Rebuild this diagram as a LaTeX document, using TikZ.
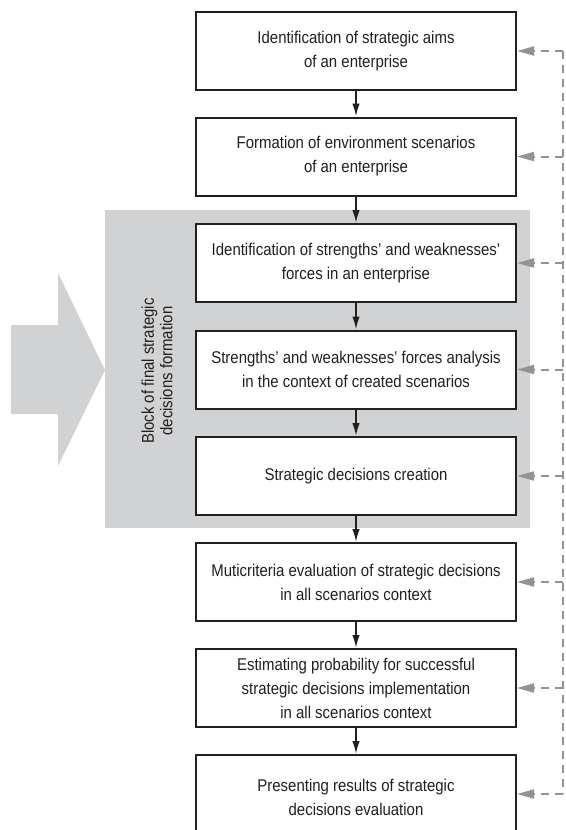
\documentclass[tikz,border=0pt]{standalone}
\usepackage{fontspec}
\setmainfont[FakeStretch=0.88]{Liberation Sans}
\usetikzlibrary{arrows.meta}
\definecolor{blockgrey}{HTML}{D1D2D4}
\definecolor{fbgrey}{HTML}{939393}
\definecolor{ink}{HTML}{231F20}
\tikzset{
  stepbox/.style={draw=ink, line width=2pt, fill=white, minimum width=320pt, minimum height=78pt,
    align=center, inner sep=0pt, text=ink, font=\fontsize{17}{24}\selectfont},
  flow/.style={draw=ink, line width=1.8pt, -{Latex[length=13pt,width=7.5pt]}},
  fb/.style={draw=fbgrey, line width=2pt, dash pattern=on 8pt off 6pt, -{Triangle[length=17pt,width=9pt,fill=fbgrey]}},
  fbline/.style={draw=fbgrey, line width=2pt, dash pattern=on 8pt off 6pt},
}
\begin{document}
\begin{tikzpicture}[x=1pt,y=-1pt]
\useasboundingbox (0,0) rectangle (565,830);
\begin{scope}
\clip (0,0) rectangle (565,830);
% grey block and big arrow
\fill[blockgrey] (105,210) rectangle (530,528);
\fill[blockgrey] (11,325) -- (58,325) -- (58,273) -- (105,370) -- (58,466) -- (58,414) -- (11,414) -- cycle;
\node[rotate=90, align=center, text=ink, font=\fontsize{17}{18.5}\selectfont] (blocklabel) at (157,371)
  {Block of final strategic\\decisions formation};

% boxes
\node[stepbox] (b1) at (356,51) {Identification of strategic aims\\of an enterprise};
\node[stepbox] (b2) at (356,156.5) {Formation of environment scenarios\\of an enterprise};
\node[stepbox] (b3) at (356,263) {Identification of strengths’ and weaknesses’\\forces in an enterprise};
\node[stepbox] (b4) at (356,369.5) {Strengths’ and weaknesses’ forces analysis\\in the context of created scenarios};
\node[stepbox] (b5) at (356,476) {Strategic decisions creation};
\node[stepbox] (b6) at (356,582) {Muticriteria evaluation of strategic decisions\\in all scenarios context};
\node[stepbox] (b7) at (356,688) {Estimating probability for successful\\strategic decisions implementation\\in all scenarios context};
\node[stepbox, minimum height=84pt] (b8) at (356,797) {Presenting results of strategic\\decisions evaluation};

% flow arrows
\foreach \a/\b in {b1/b2,b2/b3,b3/b4,b4/b5,b5/b6,b6/b7,b7/b8}
  \draw[flow] (\a.south) -- (\b.north);

% feedback
\foreach \i/\y in {1/51,2/156.5,3/263,4/369.5,5/476,6/582,7/688,8/794}
  \coordinate (fb\i) at (563,\y);
\draw[fbline] (fb1) -- (fb8);
\foreach \i in {1,...,8}
  \draw[fb] (fb\i) -- (fb\i -| b\i.east);
\end{scope}
\end{tikzpicture}
\end{document}
